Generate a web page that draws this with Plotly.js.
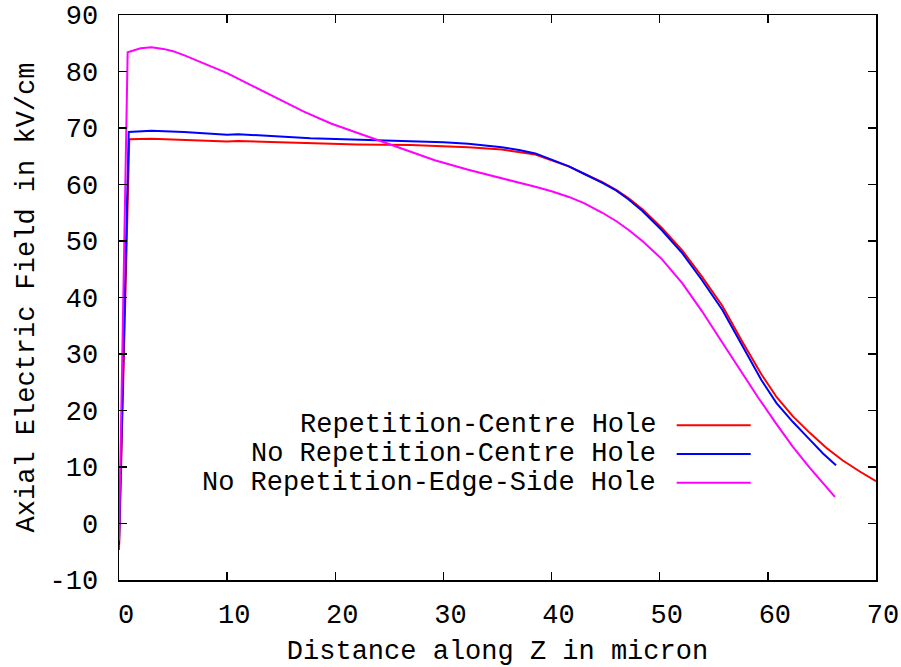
<!DOCTYPE html>
<html>
<head>
<meta charset="utf-8">
<script src="https://cdn.plot.ly/plotly-3.0.1.min.js"></script>
<style>
html,body{margin:0;padding:0;background:#fff;}
#chart{width:901px;height:667px;}
</style>
</head>
<body>
<div id="chart"></div>
<script>
// Series names
var seriesNames = ['Repetition-Centre Hole', 'No Repetition-Centre Hole', 'No Repetition-Edge-Side Hole'];

// Repetition-Centre Hole (red)
var redX = [0, 0.95, 3, 6, 10, 11, 17.7, 22, 27, 30, 32.3, 35.4, 37, 38.5, 40, 41.6, 43, 44.7, 46, 47.1, 48.4, 50.2, 52.1, 53.9, 55.8, 57.6, 59.4, 60.8, 62.3, 63.9, 65.4, 66.9, 68.5, 70];
var redY = [-4.7, 68.0, 68.1, 67.9, 67.6, 67.7, 67.3, 67.1, 67.0, 66.8, 66.6, 66.2, 65.8, 65.3, 64.3, 63.2, 61.9, 60.4, 59.0, 57.6, 55.6, 52.3, 48.3, 43.7, 38.5, 32.3, 26.4, 22.4, 19.0, 16.0, 13.4, 11.2, 9.2, 7.5];

// No Repetition-Centre Hole (blue)
var blueX = [0, 0.9, 3, 6, 10, 11, 17.7, 22, 27, 30, 32.3, 35.4, 37, 38.5, 40, 41.6, 43, 44.7, 46, 47.1, 48.4, 50.2, 52.1, 53.9, 55.8, 57.6, 59.4, 60.8, 62.3, 63.9, 65.1, 66.3];
var blueY = [-3.8, 69.3, 69.5, 69.3, 68.8, 68.9, 68.2, 68.0, 67.7, 67.5, 67.2, 66.6, 66.1, 65.5, 64.4, 63.2, 61.9, 60.3, 58.9, 57.4, 55.3, 51.9, 47.8, 43.1, 37.8, 31.6, 25.4, 21.3, 18.0, 14.8, 12.4, 10.3];

// No Repetition-Edge-Side Hole (magenta)
var magX = [0, 0.8, 2, 3, 4.1, 5, 6, 7.8, 10, 12.2, 14.6, 17.1, 19.6, 22.1, 24, 27, 29.2, 32.3, 35.4, 37, 38.5, 40, 41.6, 43, 44.7, 46, 47.1, 48.4, 50.2, 52.1, 53.9, 55.8, 57.6, 59.1, 60.8, 62.3, 63.9, 65.1, 66.2];
var magY = [-3, 83.4, 84.1, 84.3, 84.0, 83.6, 82.9, 81.4, 79.7, 77.6, 75.3, 72.9, 70.8, 69.1, 67.9, 65.8, 64.3, 62.6, 61.1, 60.4, 59.6, 58.8, 57.8, 56.7, 55.0, 53.5, 52.0, 50.0, 46.8, 42.5, 37.6, 32.0, 26.7, 22.3, 17.6, 13.6, 9.8, 7.1, 4.7];

// Axis ticks
var xTicks = [0, 10, 20, 30, 40, 50, 60, 70];
var yTicks = [-10, 0, 10, 20, 30, 40, 50, 60, 70, 80, 90];

var colors = ['#ff0000', '#0000ff', '#ff00ff'];
var xs = [redX, blueX, magX];
var ys = [redY, blueY, magY];

var FONT = '"Liberation Mono", "DejaVu Sans Mono", monospace';

var traces = seriesNames.map(function (n, i) {
  return {
    x: xs[i], y: ys[i], name: n, type: 'scatter', mode: 'lines',
    line: {color: colors[i], width: 2},
    showlegend: false, hoverinfo: 'skip'
  };
});

// Legend drawn gnuplot-style: right-aligned text, then line sample
var legTextX = 0.7124, legLine0 = 0.7367, legLine1 = 0.8345;
var legY = [0.2738, 0.2230, 0.1722];
var annotations = seriesNames.map(function (n, i) {
  return {
    xref: 'paper', yref: 'paper', x: legTextX, y: legY[i],
    xanchor: 'right', yanchor: 'middle', showarrow: false,
    text: n, font: {family: FONT, size: 27, color: '#000'}
  };
});
var shapes = seriesNames.map(function (n, i) {
  return {
    type: 'line', xref: 'paper', yref: 'paper',
    x0: legLine0, x1: legLine1, y0: legY[i], y1: legY[i],
    line: {color: colors[i], width: 2}
  };
});

var axisCommon = {
  showgrid: false, zeroline: false, showline: true, linecolor: '#000', linewidth: 1.5,
  mirror: 'allticks', ticks: 'inside', ticklen: 8, tickwidth: 1.5, tickcolor: '#000',
  tickfont: {family: FONT, size: 27, color: '#000'}, tickmode: 'array'
};

var layout = {
  width: 901, height: 667,
  margin: {l: 119, r: 25, t: 15, b: 87},
  paper_bgcolor: '#fff', plot_bgcolor: '#fff',
  xaxis: Object.assign({}, axisCommon, {
    range: [0, 70], tickvals: xTicks, ticktext: xTicks.map(String),
    ticklabelstandoff: 9, ticklabelshift: 7,
    title: {text: 'Distance along Z in micron', font: {family: FONT, size: 27, color: '#000'}, standoff: 21}
  }),
  yaxis: Object.assign({}, axisCommon, {
    range: [-10, 90], tickvals: yTicks, ticktext: yTicks.map(String),
    ticklabelstandoff: 14,
    title: {text: 'Axial Electric Field in kV/cm', font: {family: FONT, size: 27, color: '#000'}, standoff: 7}
  }),
  annotations: annotations,
  shapes: shapes,
  showlegend: false
};

Plotly.newPlot('chart', traces, layout, {staticPlot: true, displayModeBar: false});
</script>
</body>
</html>
